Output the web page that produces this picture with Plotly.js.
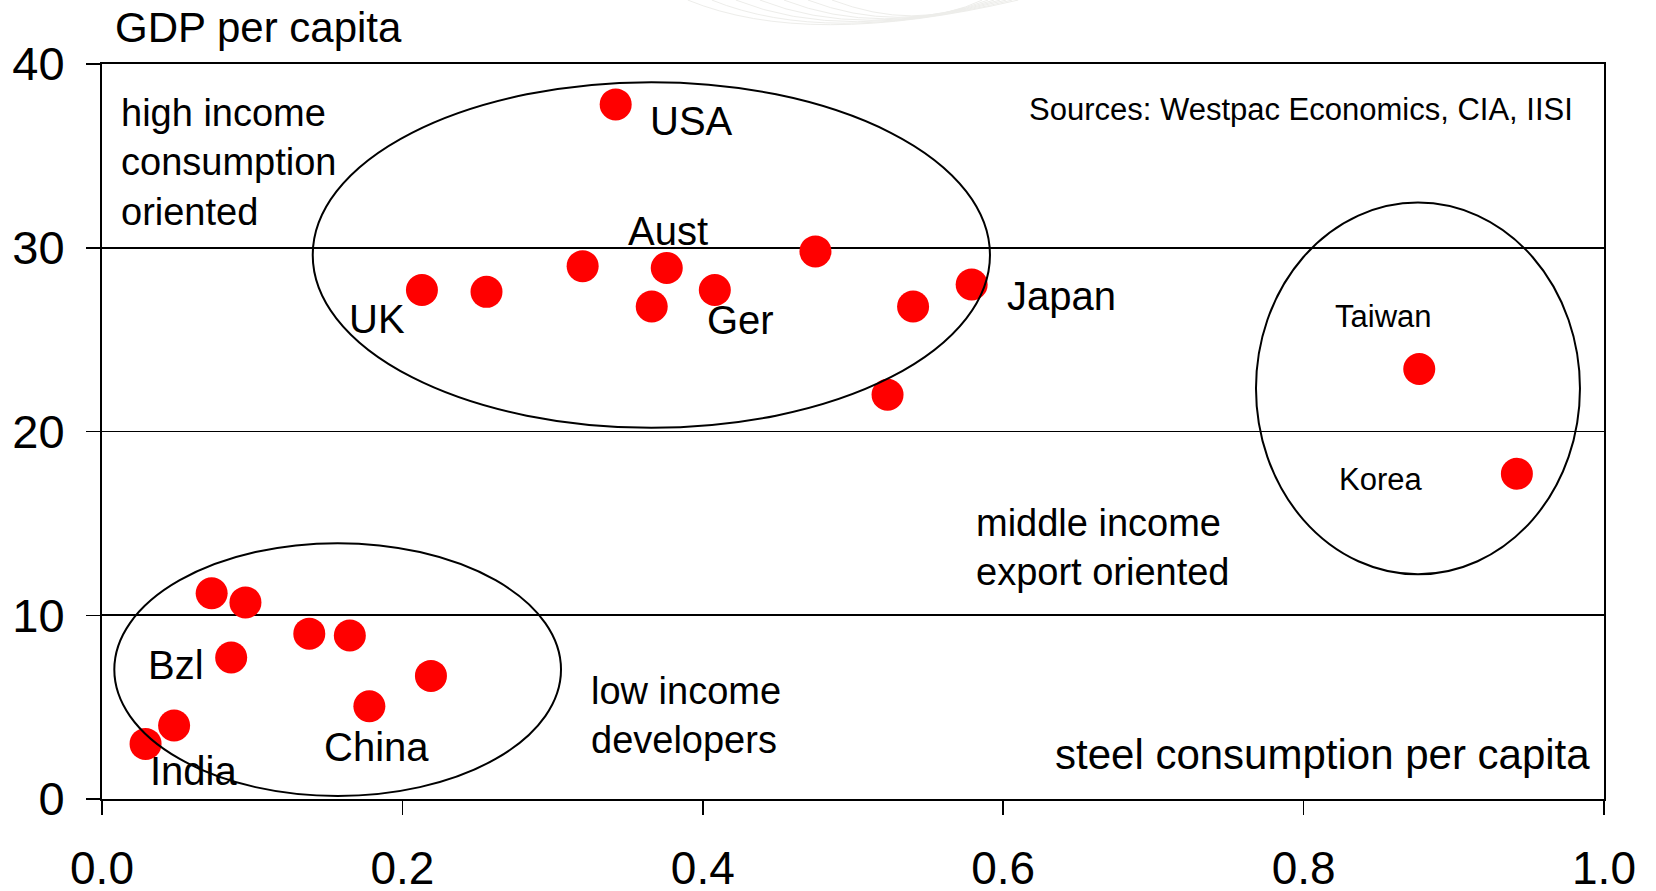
<!DOCTYPE html>
<html>
<head>
<meta charset="utf-8">
<script src="https://cdn.plot.ly/plotly-3.0.1.min.js"></script>
<style>
html,body{margin:0;padding:0;background:#fff;}
#chart{width:1656px;height:891px;}
</style>
</head>
<body>
<div id="chart"></div>
<script>
// Steel consumption per capita (x) and GDP per capita (y)
const steelHigh = [0.342, 0.213, 0.256, 0.320, 0.376, 0.366, 0.408, 0.475, 0.579, 0.540, 0.523];
const gdpHigh   = [37.8, 27.7, 27.6, 29.0, 28.9, 26.8, 27.7, 29.8, 28.0, 26.8, 22.0];
const steelMid  = [0.877, 0.942];
const gdpMid    = [23.4, 17.7];
const steelLow  = [0.073, 0.0955, 0.138, 0.165, 0.086, 0.219, 0.178, 0.048, 0.029];
const gdpLow    = [11.2, 10.7, 9.0, 8.9, 7.7, 6.7, 5.05, 4.0, 3.0];

const countryNames = ["USA", "Aust", "UK", "Ger", "Japan", "Taiwan", "Korea", "Bzl", "India", "China"];
const xTicks = [0, 0.2, 0.4, 0.6, 0.8, 1.0];
const yTicks = [0, 10, 20, 30, 40];

const FONT = "Liberation Sans, Arial, Helvetica, sans-serif";

const allX = steelHigh.concat(steelMid, steelLow);
const allY = gdpHigh.concat(gdpMid, gdpLow);

const trace = {
  x: allX, y: allY, type: "scatter", mode: "markers",
  marker: {color: "#ff0000", size: 32, line: {width: 0}},
  hoverinfo: "x+y", showlegend: false, cliponaxis: false
};

// label placements (layout)
const labelPos = {
  "USA":   [0.3925, 36.9, 40],
  "Aust":  [0.3768, 30.9, 40],
  "UK":    [0.1829, 26.1, 40],
  "Ger":   [0.4253, 26.05, 40],
  "Japan": [0.639, 27.4, 40],
  "Taiwan":[0.853, 26.25, 31],
  "Korea": [0.851, 17.4, 31],
  "Bzl":   [0.0493, 7.3, 40],
  "India": [0.0612, 1.5, 40],
  "China": [0.1828, 2.85, 40]
};

const annotations = countryNames.map(n => ({
  x: labelPos[n][0], y: labelPos[n][1], xref: "x", yref: "y",
  text: n, showarrow: false, xanchor: "center", yanchor: "middle",
  font: {family: FONT, size: labelPos[n][2], color: "#000"}
}));

annotations.push(
  {x: 0.0112, y: 34.62, xref: "x", yref: "y", text: "high income<br>consumption<br>oriented",
   showarrow: false, xanchor: "left", yanchor: "middle", align: "left",
   font: {family: FONT, size: 38, color: "#000"}},
  {x: 0.3243, y: 4.55, xref: "x", yref: "y", text: "low income<br>developers",
   showarrow: false, xanchor: "left", yanchor: "middle", align: "left",
   font: {family: FONT, size: 38, color: "#000"}},
  {x: 0.5806, y: 13.69, xref: "x", yref: "y", text: "middle income<br>export oriented",
   showarrow: false, xanchor: "left", yanchor: "middle", align: "left",
   font: {family: FONT, size: 38, color: "#000"}},
  {x: 0.9807, y: 37.5, xref: "x", yref: "y", text: "Sources: Westpac Economics, CIA, IISI",
   showarrow: false, xanchor: "right", yanchor: "middle",
   font: {family: FONT, size: 31, color: "#000"}},
  {x: 0.9917, y: 2.4, xref: "x", yref: "y", text: "steel consumption per capita",
   showarrow: false, xanchor: "right", yanchor: "middle",
   font: {family: FONT, size: 42, color: "#000"}},
  {x: 0.007, y: 1.049, xref: "paper", yref: "paper", text: "GDP per capita",
   showarrow: false, xanchor: "left", yanchor: "middle",
   font: {family: FONT, size: 42, color: "#000"}}
);

const shapes = [
  {type: "circle", xref: "x", yref: "y", x0: 0.1403, x1: 0.5912, y0: 20.2, y1: 39.01,
   line: {color: "#000", width: 2}},
  {type: "circle", xref: "x", yref: "y", x0: 0.7683, x1: 0.984, y0: 12.23, y1: 32.46,
   line: {color: "#000", width: 2}},
  {type: "circle", xref: "x", yref: "y", x0: 0.0082, x1: 0.3056, y0: 0.163, y1: 13.92,
   line: {color: "#000", width: 2}}
];

// faint decorative swirl at top (paper coordinates)
for (let i = 0; i < 7; i++) {
  const sx = 0.39 + i * 0.016, sy = 1.087;
  const cx = 0.47 + i * 0.012, cy = 1.02 + i * 0.004;
  const ex = 0.61 - i * 0.004, ey = 1.087;
  shapes.push({type: "path", xref: "paper", yref: "paper", layer: "below",
    path: `M ${sx},${sy} Q ${cx},${cy} ${ex},${ey}`,
    line: {color: "#ededea", width: 1}});
}

const layout = {
  width: 1656, height: 891,
  margin: {l: 102, r: 52, t: 64, b: 92},
  paper_bgcolor: "#fff", plot_bgcolor: "#fff",
  showlegend: false,
  xaxis: {
    range: [0, 1], tickvals: xTicks, ticktext: xTicks.map(v => v.toFixed(1)),
    showline: true, linecolor: "#000", linewidth: 2, mirror: true,
    ticks: "outside", ticklen: 14, tickwidth: 1.5, tickcolor: "#000",
    showgrid: false, zeroline: false, ticklabelstandoff: 14,
    tickfont: {family: FONT, size: 46, color: "#000"}
  },
  yaxis: {
    range: [0, 40], tickvals: yTicks, ticktext: yTicks.map(String),
    showline: true, linecolor: "#000", linewidth: 2, mirror: true,
    ticks: "outside", ticklen: 14, tickwidth: 1.5, tickcolor: "#000",
    showgrid: true, gridcolor: "#000", gridwidth: 1.6, zeroline: false,
    ticklabelstandoff: 12,
    tickfont: {family: FONT, size: 47, color: "#000"}
  },
  annotations: annotations,
  shapes: shapes
};

Plotly.newPlot("chart", [trace], layout, {displayModeBar: false, staticPlot: true});
</script>
</body>
</html>
